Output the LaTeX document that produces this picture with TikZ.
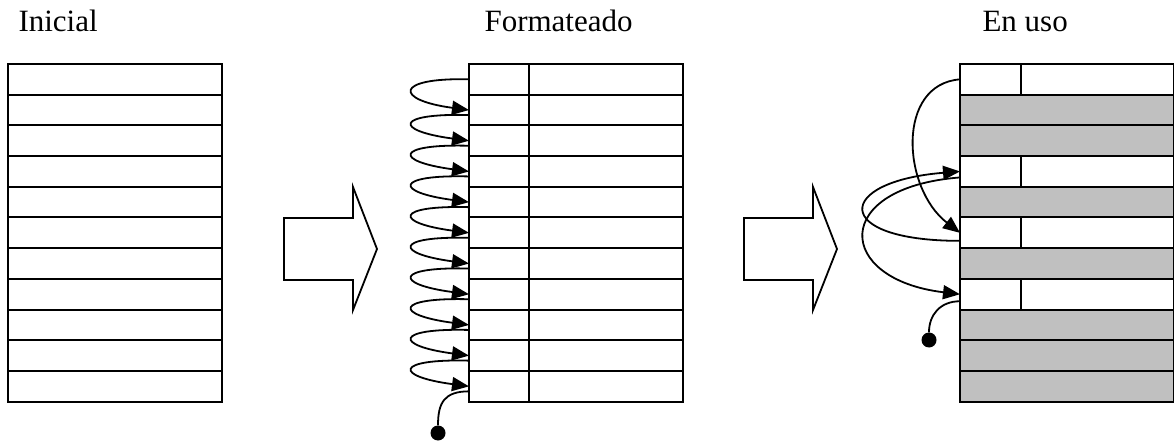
\documentclass[tikz,border=0pt]{standalone}
\usepackage{fontspec}
\setmainfont{Liberation Serif}
\usetikzlibrary{calc,arrows.meta}
\tikzset{fila/.style={draw,line width=2pt,minimum width=214pt,minimum height=30.7pt,inner sep=0pt,outer sep=0pt},
  titulo/.style={anchor=base west,font=\fontsize{31}{36}\selectfont},
  enlace/.style={line width=1.8pt},
  sigue/.style={enlace,-{Triangle[length=17pt,width=14pt]}},
  punto/.style={circle,fill,inner sep=0pt,minimum size=15pt}}
\definecolor{ocupado}{RGB}{192,192,192}
\newcommand*{\flecha}[1]
  {\draw[line width=1.8pt,shift={(#1,0)}] (284,218) -- (353,218) -- (353,187) -- (377,249) -- (353,310) -- (353,280) -- (284,280) -- cycle}

\begin{document}
\begin{tikzpicture}[x=1pt,y=-1pt]
\useasboundingbox (0,0) rectangle (1174,443);
\node[titulo] (tini) at (15,32) {Inicial};
\node[titulo] (tfor) at (481,32) {Formateado};
\node[titulo] (tuso) at (979,32) {En uso};
% las tres columnas de bloques
\foreach \k/\c in {0/white,1/ocupado,2/ocupado,3/white,4/ocupado,5/white,6/ocupado,7/white,8/ocupado,9/ocupado,10/ocupado} {
  \node[fila] (a\k) at (115,{64+30.7*(\k+.5)}) {};
  \node[fila] (b\k) at (576,{64+30.7*(\k+.5)}) {};
  \draw[line width=2pt] ($(b\k.north west)+(60,0)$) -- ($(b\k.south west)+(60,0)$);
  \node[fila,draw=none,fill=\c] (c\k) at (1067,{64+30.7*(\k+.5)}) {};
}
\foreach \k in {0,...,10}
  \draw[line width=2pt] (c\k.north west) rectangle (c\k.south east);
\foreach \k in {0,3,5,7}
  \draw[line width=2pt] ($(c\k.north west)+(61,0)$) -- ($(c\k.south west)+(61,0)$);
\flecha{0};
\flecha{460};
% lista de bloques libres
\foreach \k [evaluate=\k as \j using int(\k+1), evaluate=\k as \s using int(\k>0?5:0)] in {0,...,9}
  \draw[sigue] ($(b\k.west)+(0,\s)$) .. controls +(-75,-2) and +(-75,-10) .. (b\j.west);
\node[punto] (pm) at (438,433) {};
\draw[enlace] ($(b10.west)+(0,5)$) .. controls +(-25,0) and +(0,-30) .. (pm);
\draw[sigue] (c0.west) .. controls +(-64,5) and +(-58,-45) .. (c5.west);
\draw[sigue] ($(c3.west)+(0,6)$) .. controls +(-130,10) and +(-125,-15) .. (c7.west);
\draw[sigue] ($(c5.west)+(0,8)$) .. controls +(-130,0) and +(-125,10) .. (c3.west);
\node[punto] (pd) at (929,340) {};
\draw[enlace] ($(c7.west)+(0,7)$) .. controls +(-20,0) and +(0,-25) .. (pd);
\end{tikzpicture}
\end{document}
